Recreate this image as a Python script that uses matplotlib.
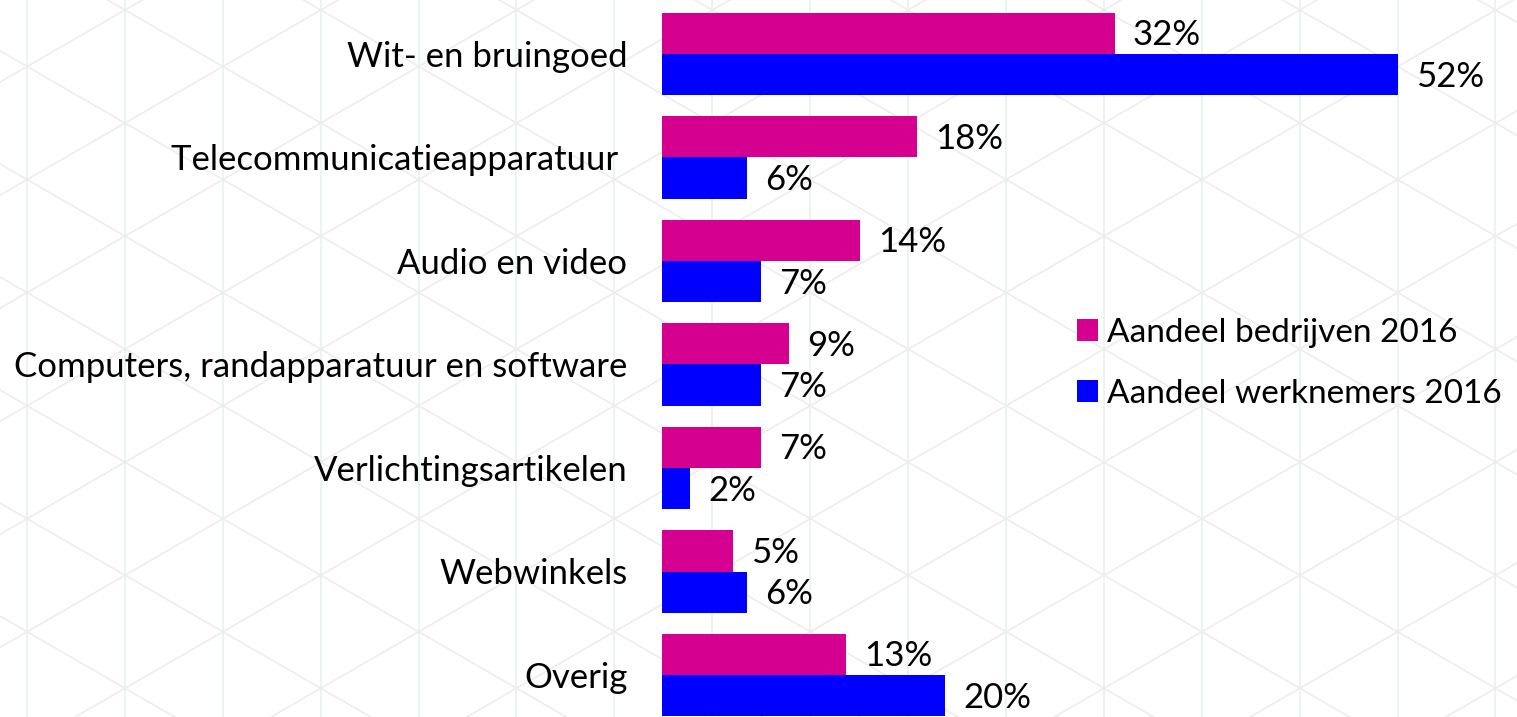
import matplotlib
matplotlib.use("Agg")
import matplotlib.pyplot as plt
import numpy as np

categories = ["Wit- en bruingoed", "Telecommunicatieapparatuur ", "Audio en video",
              "Computers, randapparatuur en software", "Verlichtingsartikelen",
              "Webwinkels", "Overig"]
bedrijven = [32, 18, 14, 9, 7, 5, 13]
werknemers = [52, 6, 7, 7, 2, 6, 20]
series_labels = ["Aandeel bedrijven 2016", "Aandeel werknemers 2016"]
colors = ["#D5008F", "#0000FF"]

W, H = 1517, 717
plt.rcParams['font.family'] = ['Lato', 'DejaVu Sans']
fig = plt.figure(figsize=(W / 100, H / 100), dpi=100)
fig.patch.set_facecolor("white")

# background lattice
bg = fig.add_axes([0, 0, 1, 1], zorder=0)
bg.set_xlim(0, W)
bg.set_ylim(H, 0)
bg.axis("off")
dx = 97.9
s = np.tan(np.radians(30))
for k in range(-1, 17):
    x = 27 + dx * k
    bg.plot([x, x], [0, H], color="#e9f1f1", lw=1.2)
xs = np.array([0, W])
for k in range(-20, 25):
    y0 = 10 + 2 * dx * s * k
    bg.plot(xs, y0 + s * (xs - 125), color="#ededed", lw=1.2)
    bg.plot(xs, y0 - s * (xs - 125), color="#ededed", lw=1.2)

# main axes
x0 = 662
ppu = (1398 - 662) / 52.0
ax = fig.add_axes([x0 / W, 0, 1 - x0 / W, 1], zorder=1)
ax.patch.set_alpha(0)
ax.set_xlim(0, (W - x0) / ppu)
pitch = (675 - 54) / 6.0
ax.set_ylim((H - 54) / pitch, -54 / pitch)

y = np.arange(len(categories))
h = 0.4
b1 = ax.barh(y - h / 2, bedrijven, height=h, color=colors[0], label=series_labels[0])
b2 = ax.barh(y + h / 2, werknemers, height=h, color=colors[1], label=series_labels[1])

fs = 25
off = 18 / ppu
dy = 2 / pitch
for yi, v in zip(y, bedrijven):
    ax.text(v + off, yi - h / 2 + dy, f"{v}%", va="center", ha="left", fontsize=fs, color="black")
for yi, v in zip(y, werknemers):
    ax.text(v + off, yi + h / 2 + dy, f"{v}%", va="center", ha="left", fontsize=fs, color="black")

ax.set_yticks(y)
ax.set_yticklabels(categories, fontsize=fs)
ax.tick_params(axis="y", length=0, pad=25)
ax.set_xticks([])
for sp in ax.spines.values():
    sp.set_visible(False)

leg = fig.legend(handles=[b1, b2], labels=series_labels, loc="upper left",
                 bbox_to_anchor=(1077 / W, 1 - 318 / H), frameon=False,
                 fontsize=24, handlelength=0.63, handleheight=0.63,
                 handletextpad=0.28, labelspacing=0.93, borderaxespad=0,
                 borderpad=0)

fig.savefig("out.png", dpi=100, facecolor="white")
